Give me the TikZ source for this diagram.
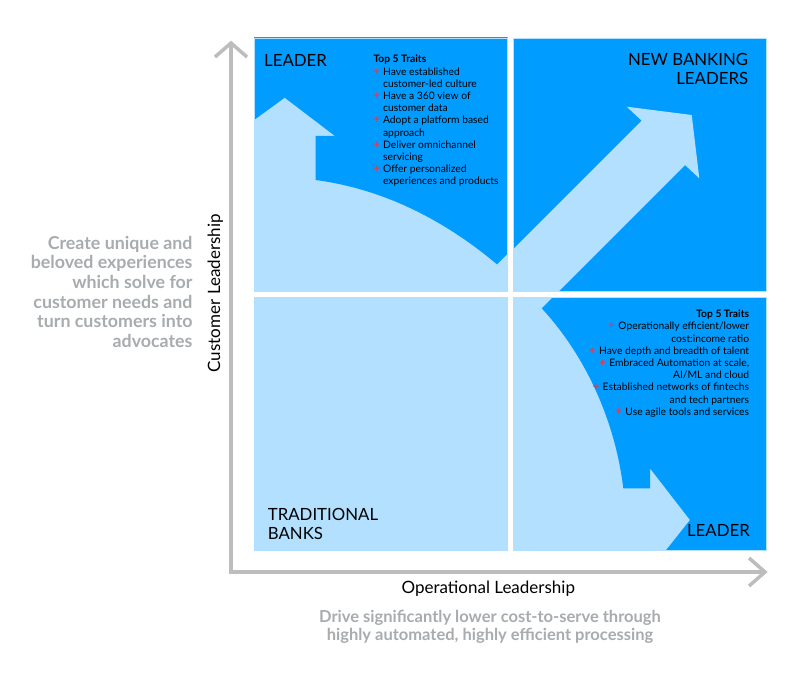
\documentclass[tikz,border=0pt]{standalone}
\usepackage{fontspec}
\setmainfont{Lato}
\definecolor{bright}{HTML}{009CFF}
\definecolor{pale}{HTML}{B3E0FF}
\definecolor{axisgray}{HTML}{BDBDBD}
\definecolor{textgray}{HTML}{A8ACAF}
\definecolor{plusred}{HTML}{E23A55}
\newcommand{\plusmark}{\textcolor{plusred}{\fontsize{11.5}{12}\selectfont\bfseries +}}
\newcommand{\tplus}{\makebox[9.6pt][l]{\plusmark}}
\newcommand{\rplus}{\plusmark\hspace{3.5pt}}
\newcommand{\tind}{\hspace*{9.6pt}}
\begin{document}
\begin{tikzpicture}[x=1pt,y=-1pt,
  quadedge/.style={draw=pale, line width=0.8pt},
  title/.style={inner sep=0pt, font=\fontsize{16.8}{19}\selectfont, text=black},
  traits/.style={inner sep=0pt, font=\fontsize{10.3}{12.2}\selectfont, text=black},
  side/.style={inner sep=0pt, font=\bfseries\fontsize{17.8}{19.6}\selectfont, text=textgray},
  bottomtext/.style={inner sep=0pt, font=\bfseries\fontsize{16.5}{17.3}\selectfont, text=textgray},
  axislabel/.style={inner sep=0pt, font=\fontsize{17}{19}\selectfont, text=black},
  axisline/.style={draw=axisgray, line width=3.5pt}
]
\useasboundingbox (0,0) rectangle (800,690);
\fill[white] (0,0) rectangle (800,690);

% ---- top left quadrant
\fill[pale] (254,38) rectangle (507.5,291);
\begin{scope}
  \clip (254,38) rectangle (507.5,291);
  \fill[bright] (250,34) -- (250,123) -- (284.7,97.7) -- (335,136) -- (315.7,136)
    -- (315.7,180) .. controls (390,190) and (450,225) .. (497,264.3)
    -- (520,241.3) -- (520,34) -- cycle;
\end{scope}
\draw[quadedge] (254,38) rectangle (507.5,291);

% ---- top right quadrant
\fill[bright] (513,38) rectangle (766,291);
\begin{scope}
  \clip (513,38) rectangle (766,291);
  \fill[pale] (490,272.4) -- (641.7,120.7) -- (626.7,106.7) -- (691.7,115)
    -- (699.3,178.3) -- (685,165) -- (530,320) -- cycle;
\end{scope}
\draw[quadedge] (513,38) rectangle (766,291);

% ---- bottom left quadrant
\fill[pale] (254,297) rectangle (507.5,550);
\draw[quadedge] (254,297) rectangle (507.5,550);

% ---- bottom right quadrant
\fill[pale] (513,297) rectangle (766,550);
\begin{scope}
  \clip (513,297) rectangle (766,550);
  \fill[bright] (560,290) -- (541.7,308.3) .. controls (585,355) and (615,420) .. (623.3,488.3)
    -- (650,488.3) -- (650,468.3) -- (690,520) -- (661.4,556) -- (770,556) -- (770,290) -- cycle;
\end{scope}
\draw[quadedge] (513,297) rectangle (766,550);

% ---- axes
\coordinate (O) at (231,572);
\coordinate (Ytip) at (231,43);
\coordinate (Xtip) at (765,572);
\draw[axisline] (Ytip) -- (O) -- (Xtip);
\draw[axisline] ([shift={(-16,14)}]Ytip) -- (Ytip) -- ([shift={(16,14)}]Ytip);
\draw[axisline] ([shift={(-16,-14)}]Xtip) -- (Xtip) -- ([shift={(-16,14)}]Xtip);

% ---- quadrant titles
\node[title, anchor=base west] (tlTitle) at (264,66.7) {LEADER};
\node[title, anchor=base east] (trTitle) at (748.3,66)
  {\begin{tabular}[t]{@{}r@{}}NEW BANKING\\LEADERS\end{tabular}};
\node[title, anchor=base west, font=\fontsize{16.8}{18.7}\selectfont] (blTitle) at (267.7,520.7)
  {\begin{tabular}[t]{@{}l@{}}TRADITIONAL\\BANKS\end{tabular}};
\node[title, anchor=base east] (brTitle) at (750,536.7) {LEADER};

% ---- trait lists
\node[traits, anchor=base west] (tlTraits) at (373.3,63)
  {\begin{tabular}[t]{@{}l@{}}
   \textbf{Top 5 Traits}\\
   \tplus Have established\\
   \tind customer-led culture\\
   \tplus Have a 360 view of\\
   \tind customer data\\
   \tplus Adopt a platform based\\
   \tind approach\\
   \tplus Deliver omnichannel\\
   \tind servicing\\
   \tplus Offer personalized\\
   \tind experiences and products
  \end{tabular}};
\node[traits, anchor=base east] (brTraits) at (749.3,317.7)
  {\begin{tabular}[t]{@{}r@{}}
   \textbf{Top 5 Traits}\\
   \rplus Operationally efficient/lower\\
   cost:income ratio\\
   \rplus Have depth and breadth of talent\\
   \rplus Embraced Automation at scale,\\
   AI/ML and cloud\\
   \rplus Established networks of fintechs\\
   and tech partners\\
   \rplus Use agile tools and services
  \end{tabular}};

% ---- axis labels and descriptions
\node[axislabel, rotate=90, anchor=base] (yLabel) at (220,293.3) {Customer Leadership};
\node[axislabel, anchor=base] (xLabel) at (488.3,593.3) {Operational Leadership};
\node[side, anchor=base east] (yDesc) at (192.7,249.3)
  {\begin{tabular}[t]{@{}r@{}}Create unique and\\beloved experiences\\which solve for\\customer needs and\\turn customers into\\advocates\end{tabular}};
\node[bottomtext, anchor=base] (xDesc) at (490,622.7)
  {\begin{tabular}[t]{@{}c@{}}Drive significantly lower cost-to-serve through\\highly automated, highly efficient processing\end{tabular}};
\end{tikzpicture}
\end{document}
